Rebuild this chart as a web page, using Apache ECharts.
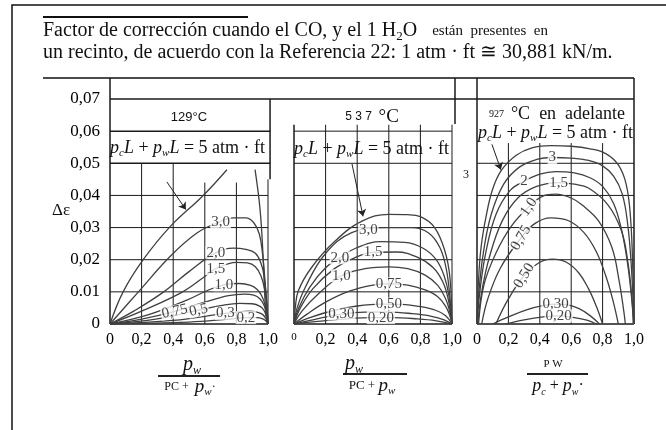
<!DOCTYPE html>
<html><head><meta charset="utf-8">
<script src="https://cdn.jsdelivr.net/npm/echarts@6/dist/echarts.min.js"></script>
<style>html,body{margin:0;padding:0;background:#fff}#c{width:666px;height:430px}</style>
</head><body><div id="c"></div>
<script>
// ---------- tick labels ----------
const xTickLabels = ['0','0,2','0,4','0,6','0,8','1,0'];
const yTickLabels = ['0','0.01','0,02','0,03','0,04','0,05','0,06','0,07'];

// ---------- Panel 1 : 129 °C ----------
const p1_c5a = [[0,0],[0.083,0.01],[0.21,0.02],[0.375,0.03],[0.59,0.04],[0.74,0.048]];
const p1_c5b = [[0.918,0.048],[0.95,0.0355],[0.97,0.020],[0.985,0.0044],[1,0]];
const p1_c30 = [[0,0],[0.18,0.010],[0.38,0.021],[0.55,0.0283],[0.68,0.0315],[0.78,0.033],[0.86,0.033],[0.91,0.0315],[0.945,0.028],[0.965,0.022],[0.98,0.014],[0.992,0.006],[1,0]];
const p1_c20 = [[0,0],[0.15,0.004],[0.34,0.010],[0.5,0.0163],[0.67,0.0222],[0.78,0.0236],[0.86,0.0232],[0.92,0.022],[0.955,0.019],[0.975,0.015],[0.99,0.008],[1,0]];
const p1_c15 = [[0,0],[0.2,0.004],[0.46,0.010],[0.6,0.0148],[0.67,0.0172],[0.8,0.0192],[0.87,0.019],[0.92,0.0178],[0.955,0.015],[0.978,0.011],[0.992,0.006],[1,0]];
const p1_c10 = [[0,0],[0.25,0.003],[0.49,0.0075],[0.62,0.0105],[0.72,0.0122],[0.82,0.0126],[0.89,0.012],[0.93,0.0108],[0.96,0.0088],[0.98,0.0062],[0.992,0.0033],[1,0]];
const p1_c075 = [[0,0],[0.2,0.0015],[0.41,0.0039],[0.6,0.0068],[0.75,0.0088],[0.85,0.0093],[0.91,0.009],[0.95,0.0078],[0.975,0.0058],[0.99,0.003],[1,0]];
const p1_c05 = [[0,0],[0.3,0.0016],[0.56,0.0043],[0.7,0.0057],[0.82,0.0064],[0.9,0.0063],[0.95,0.0055],[0.975,0.0042],[0.99,0.0022],[1,0]];
const p1_c03 = [[0,0],[0.4,0.0011],[0.73,0.0033],[0.82,0.0038],[0.88,0.004],[0.93,0.0037],[0.965,0.003],[0.985,0.0018],[1,0]];
const p1_c02 = [[0,0],[0.5,0.0006],[0.75,0.0015],[0.86,0.002],[0.93,0.002],[0.97,0.0015],[0.99,0.0008],[1,0]];
const p1_labels = [[0.7,0.0318,'3,0'],[0.67,0.0222,'2,0'],[0.67,0.0172,'1,5'],[0.72,0.0122,'1,0'],[0.41,0.0039,'0,75'],[0.56,0.0043,'0,5'],[0.73,0.0033,'0,3'],[0.86,0.002,'0,2']];
const p1_arrow = [[0.36,0.0442],[0.48,0.0356]];

// ---------- Panel 2 : 537 °C ----------
const p2_c5 = [[0,0],[0.008,0.005],[0.027,0.0103],[0.11,0.0175],[0.26,0.0258],[0.43,0.032],[0.6,0.0341],[0.72,0.034],[0.8,0.0334],[0.89,0.030],[0.955,0.0227],[0.987,0.0144],[1,0]];
const p2_c30 = [[0,0],[0.02,0.005],[0.07,0.0113],[0.196,0.0217],[0.365,0.0284],[0.576,0.030],[0.745,0.030],[0.85,0.0284],[0.924,0.0237],[0.966,0.0165],[0.99,0.0065],[1,0]];
const p2_c20 = [[0,0],[0.03,0.005],[0.1,0.0115],[0.2,0.0175],[0.29,0.0206],[0.4,0.0238],[0.55,0.0256],[0.7,0.0254],[0.82,0.0235],[0.9,0.02],[0.95,0.015],[0.98,0.009],[1,0]];
const p2_c15 = [[0,0],[0.04,0.005],[0.12,0.011],[0.25,0.017],[0.38,0.0205],[0.5,0.0223],[0.65,0.0224],[0.78,0.0208],[0.88,0.0176],[0.94,0.0133],[0.975,0.008],[1,0]];
const p2_c10 = [[0,0],[0.05,0.004],[0.15,0.0092],[0.3,0.015],[0.45,0.0172],[0.6,0.0178],[0.72,0.0172],[0.83,0.0152],[0.91,0.012],[0.96,0.0078],[0.985,0.004],[1,0]];
const p2_c075 = [[0,0],[0.08,0.003],[0.2,0.0068],[0.35,0.0102],[0.5,0.0121],[0.6,0.0125],[0.72,0.0121],[0.83,0.0106],[0.91,0.0085],[0.96,0.0055],[0.985,0.0028],[1,0]];
const p2_c050 = [[0,0],[0.1,0.002],[0.25,0.0042],[0.4,0.0056],[0.55,0.0062],[0.68,0.0061],[0.8,0.0054],[0.9,0.0042],[0.96,0.0026],[1,0]];
const p2_c030 = [[0,0],[0.12,0.0013],[0.3,0.0031],[0.45,0.0037],[0.6,0.0037],[0.75,0.0032],[0.87,0.0024],[0.95,0.0013],[1,0]];
const p2_c020 = [[0,0],[0.15,0.0008],[0.35,0.0017],[0.5,0.002],[0.62,0.002],[0.78,0.0016],[0.9,0.001],[1,0]];
const p2_labels = [[0.47,0.0292,'3,0'],[0.29,0.0206,'2,0'],[0.5,0.0223,'1,5'],[0.3,0.015,'1,0'],[0.6,0.0125,'0,75'],[0.6,0.0062,'0,50'],[0.3,0.0031,'0,30'],[0.55,0.002,'0,20']];
const p2_arrow = [[0.367,0.0498],[0.437,0.0335]];

// ---------- Panel 3 : 927 °C en adelante ----------
const p3_c5 = [[0,0],[0.008,0.012],[0.025,0.0235],[0.06,0.034],[0.1,0.042],[0.155,0.0478],[0.25,0.0525],[0.35,0.0548],[0.47,0.0555],[0.6,0.0553],[0.72,0.0545],[0.82,0.053],[0.9,0.0495],[0.95,0.0435],[0.978,0.033],[0.993,0.016],[1,0]];
const p3_c3 = [[0,0],[0.012,0.01],[0.04,0.022],[0.09,0.034],[0.17,0.0435],[0.27,0.0488],[0.38,0.0512],[0.48,0.0518],[0.6,0.0516],[0.7,0.051],[0.8,0.0492],[0.87,0.046],[0.925,0.0405],[0.96,0.031],[0.983,0.018],[1,0]];
const p3_c2 = [[0,0],[0.018,0.01],[0.055,0.022],[0.12,0.034],[0.21,0.0415],[0.3,0.0444],[0.4,0.0466],[0.5,0.0474],[0.62,0.047],[0.72,0.0455],[0.8,0.0428],[0.87,0.0375],[0.92,0.0295],[0.96,0.0185],[0.985,0.008],[1,0]];
const p3_c15 = [[0.005,0],[0.03,0.01],[0.08,0.021],[0.16,0.032],[0.26,0.0392],[0.38,0.0428],[0.52,0.044],[0.62,0.0435],[0.71,0.0423],[0.835,0.037],[0.92,0.029],[0.96,0.0196],[0.985,0.009],[0.995,0]];
const p3_c10 = [[0.01,0],[0.045,0.0123],[0.12,0.022],[0.22,0.0305],[0.33,0.0364],[0.42,0.0398],[0.5,0.0404],[0.6,0.0392],[0.67,0.037],[0.775,0.032],[0.86,0.0237],[0.905,0.0135],[0.935,0.004],[0.945,0]];
const p3_c075 = [[0.03,0],[0.07,0.008],[0.15,0.0175],[0.28,0.0268],[0.37,0.0313],[0.47,0.033],[0.58,0.0322],[0.68,0.0285],[0.76,0.0225],[0.82,0.015],[0.865,0.0075],[0.9,0]];
const p3_c050 = [[0.12,0],[0.2,0.0078],[0.3,0.015],[0.4,0.0192],[0.48,0.0202],[0.57,0.0192],[0.65,0.0158],[0.71,0.011],[0.76,0.0055],[0.8,0]];
const p3_c030 = [[0.1,0],[0.2,0.0022],[0.32,0.0045],[0.43,0.0058],[0.5,0.0062],[0.57,0.006],[0.65,0.0048],[0.72,0.0026],[0.78,0]];
const p3_c020 = [[0.18,0],[0.3,0.0013],[0.42,0.0022],[0.52,0.0025],[0.62,0.002],[0.7,0.0012],[0.76,0]];
const p3_labels = [[0.48,0.0518,'3'],[0.3,0.0444,'2'],[0.52,0.044,'1,5'],[0.33,0.0364,'1,0'],[0.28,0.0268,'0,75'],[0.3,0.015,'0,50'],[0.5,0.0062,'0,30'],[0.52,0.0025,'0,20']];
const p3_arrow = [[0.095,0.0559],[0.152,0.048]];

// ---------- build ----------
const SERIF = '"Liberation Serif", "DejaVu Serif", serif';
const SANS = '"Liberation Sans", Arial, sans-serif';
const INK = '#111';
const gridPos = [
  {left:110, top:99, width:158, height:225},
  {left:294, top:99, width:158, height:225},
  {left:477, top:99, width:157, height:225}
];
const panels = [
  {curves:[p1_c5a,p1_c5b,p1_c30,p1_c20,p1_c15,p1_c10,p1_c075,p1_c05,p1_c03,p1_c02], labels:p1_labels, arrow:p1_arrow, curveness:0, rot:{'0,75':12,'0,5':12}},
  {curves:[p2_c5,p2_c30,p2_c20,p2_c15,p2_c10,p2_c075,p2_c050,p2_c030,p2_c020], labels:p2_labels, arrow:p2_arrow, curveness:0.25, rot:{}},
  {curves:[p3_c5,p3_c3,p3_c2,p3_c15,p3_c10,p3_c075,p3_c050,p3_c030,p3_c020], labels:p3_labels, arrow:p3_arrow, curveness:0.15, rot:{'1,0':55,'0,75':60,'0,50':58}}
];

const xAxes = gridPos.map((g,i)=>({
  type:'value', gridIndex:i, min:0, max:1, interval:0.2,
  axisLine:{show:false}, axisTick:{show:false}, splitLine:{show:false},
  axisLabel:{
    margin:8, color:'#000', fontFamily:SERIF, fontSize:16,
    formatter: v => { const t = xTickLabels[Math.round(v*5)]; return (i===1 && t==='0') ? '{s|0}' : t; },
    rich:{s:{fontSize:11, fontFamily:SERIF, color:'#000'}}
  }
}));
const yAxes = gridPos.map((g,i)=>({
  type:'value', gridIndex:i, min:0, max:0.07, interval:0.01,
  axisLine:{show:false}, axisTick:{show:false}, splitLine:{show:false},
  axisLabel:{show:i===0, margin:10, color:'#000', fontFamily:SERIF, fontSize:17,
    formatter: v => yTickLabels[Math.round(v*100)]}
}));

const series = [];
panels.forEach((p,g)=>{
  p.curves.forEach(c=>series.push({
    type:'line', xAxisIndex:g, yAxisIndex:g, data:c, symbol:'none', showSymbol:false,
    smooth:0.4, silent:true, z:3,
    lineStyle:{color:'#404040', width:1.3}
  }));
  series.push({
    type:'scatter', xAxisIndex:g, yAxisIndex:g, symbolSize:0, silent:true, z:6,
    data: p.labels.map(d=>({name:d[2], value:[d[0],d[1]], label:{rotate:p.rot[d[2]]||0}})),
    label:{show:true, position:'inside', formatter:'{b}', color:'#111', fontFamily:SERIF,
      fontSize:15, backgroundColor:'#fff', padding:[0,1], lineHeight:13}
  });
  series.push({
    type:'line', xAxisIndex:g, yAxisIndex:g, data:[], silent:true, z:4,
    markLine:{silent:true, animation:false, symbol:['none','arrow'], symbolSize:7,
      label:{show:false},
      lineStyle:{color:'#222', width:1, type:'solid', curveness:p.curveness},
      data:[[{coord:p.arrow[0]},{coord:p.arrow[1]}]]}
  });
});

const chart = echarts.init(document.getElementById('c'));
chart.setOption({
  animation:false,
  backgroundColor:'#fff',
  grid: gridPos.map(g=>Object.assign({containLabel:false}, g)),
  xAxis: xAxes, yAxis: yAxes, series
});

// ---------- frame / grid structure (data coords -> pixels via the axes) ----------
const TOPY = 0.0765; // header rule above the panels
const segs = [];
[0.01,0.02,0.03,0.04].forEach(y=>segs.push([0,0,y,0,1,y,1]));
[0.05,0.06].forEach(y=>segs.push([0,0,y,0,1.013,y,1.5]));
[0.2,0.4].forEach(x=>segs.push([0,x,0,0,x,0.05,1]));
[0.6,0.8].forEach(x=>segs.push([0,x,0,0,x,0.044,1]));
segs.push([0,1,0,0,1,0.045,1],[0,1.013,0.045,0,1.013,0.07,1.5],[0,0,0,0,0,TOPY,1.5],[0,0,0,0,1,0,1.5]);
[0.01,0.02,0.03,0.04,0.05,0.06].forEach(y=>segs.push([1,0,y,1,1,y,1]));
[0,0.2,0.4,0.6,0.8,1].forEach(x=>segs.push([1,x,0,1,x,0.062,x===0?1.5:1]));
segs.push([1,0,0,1,1,0,1.5],[1,1.019,TOPY,1,1.019,0.0622,1.5]);
[0.01,0.02,0.03,0.04,0.05].forEach(y=>segs.push([2,0,y,2,1,y,1]));
[0.2,0.4,0.6,0.8].forEach(x=>segs.push([2,x,0,2,x,0.0563,1]));
segs.push([2,0,0,2,0,TOPY,1.5],[2,1,0,2,1,TOPY,1.5],[2,0,0,2,1,0,1.5]);
segs.push([0,0,0.07,2,1,0.07,1.5]);

const P = (g,x,y)=>chart.convertToPixel({xAxisIndex:g, yAxisIndex:g},[x,y]);
const graphics = segs.map(s=>{
  const a=P(s[0],s[1],s[2]), b=P(s[3],s[4],s[5]);
  return {type:'line', silent:true, z:1, shape:{x1:a[0],y1:a[1],x2:b[0],y2:b[1]}, style:{stroke:'#1a1a1a', lineWidth:s[6]}};
});
const hdr = P(0,0,TOPY)[1];
graphics.push(
  {type:'rect', silent:true, shape:{x:12,y:5,width:700,height:460}, style:{fill:'none', stroke:'#111', lineWidth:1.5}},
  {type:'line', silent:true, shape:{x1:43,y1:17,x2:248,y2:17}, style:{stroke:'#111', lineWidth:2}},
  {type:'line', silent:true, shape:{x1:43,y1:hdr,x2:P(2,1,0)[0],y2:hdr}, style:{stroke:'#111', lineWidth:1.5}}
);

const base = {fontFamily:SERIF, fill:INK};
const R = (o)=>Object.assign({}, base, o);
const formulaRich = {
  i:R({fontStyle:'italic', fontSize:18, lineHeight:22, verticalAlign:'middle'}),
  s:R({fontStyle:'italic', fontSize:11, lineHeight:11, verticalAlign:'bottom'}),
  r:R({fontSize:18, lineHeight:22, verticalAlign:'middle'})
};
const formula = '{i|p}{s|c}{i|L}{r| + }{i|p}{s|w}{i|L}{r| = 5 atm · ft}';
function txt(x,y,text,rich,align){
  return {type:'text', silent:true, z:8, x, y, style:{text, rich, align:align||'left', verticalAlign:'middle', fill:INK}};
}
graphics.push(
  txt(43,31,'{a|Factor de corrección cuando el CO, y el 1 H}{s|2}{a|O}{b|    están  presentes  en}',
    {a:R({fontSize:20, lineHeight:24, verticalAlign:'middle'}), s:R({fontSize:13, lineHeight:13, verticalAlign:'bottom'}), b:R({fontSize:15, lineHeight:24, verticalAlign:'middle'})}),
  txt(43,53,'{a|un recinto, de acuerdo con la Referencia 22: 1 atm · ft ≅ 30,881 kN/m.}',
    {a:R({fontSize:20, lineHeight:24})}),
  txt(61,211,'{a|Δε}', {a:R({fontSize:17})}, 'center'),
  txt(189,117,'{a|129°C}', {a:{fontFamily:SANS, fontSize:13, fill:INK}}, 'center'),
  txt(110,148,formula, formulaRich),
  txt(372,117,'{a|5 3 7  }{b|°C}', {a:{fontFamily:SANS, fontSize:12, fill:INK}, b:R({fontSize:19})}, 'center'),
  txt(294,149,formula, formulaRich),
  txt(557,114,'{a|927 }{b| °C  en  adelante}', {a:R({fontSize:10}), b:R({fontSize:18})}, 'center'),
  txt(478,133,formula, formulaRich),
  txt(466,175,'{a|3}', {a:R({fontSize:12})}, 'center'),
  // axis titles (fractions)
  txt(192,365,'{i|p}{s|w}', {i:R({fontStyle:'italic', fontSize:20, lineHeight:24, verticalAlign:'middle'}), s:R({fontStyle:'italic', fontSize:12, lineHeight:12, verticalAlign:'bottom'})}, 'center'),
  txt(190,387,'{r|PC +  }{i|p}{s|w}{r|·}', {r:R({fontSize:12, lineHeight:22, verticalAlign:'middle'}), i:R({fontStyle:'italic', fontSize:19, lineHeight:22, verticalAlign:'middle'}), s:R({fontStyle:'italic', fontSize:11, lineHeight:11, verticalAlign:'bottom'})}, 'center'),
  txt(354,364,'{i|p}{s|w}', {i:R({fontStyle:'italic', fontSize:20, lineHeight:24, verticalAlign:'middle'}), s:R({fontStyle:'italic', fontSize:12, lineHeight:12, verticalAlign:'bottom'})}, 'center'),
  txt(372,386,'{r|PC + }{i|p}{s|w}', {r:R({fontSize:13, lineHeight:22, verticalAlign:'middle'}), i:R({fontStyle:'italic', fontSize:19, lineHeight:22, verticalAlign:'middle'}), s:R({fontStyle:'italic', fontSize:11, lineHeight:11, verticalAlign:'bottom'})}, 'center'),
  txt(553,364,'{r|P W}', {r:R({fontSize:11})}, 'center'),
  txt(558,386,'{i|p}{s|c}{r| + }{i|p}{s|w}{r|·}', {r:R({fontSize:16, lineHeight:22, verticalAlign:'middle'}), i:R({fontStyle:'italic', fontSize:18, lineHeight:22, verticalAlign:'middle'}), s:R({fontStyle:'italic', fontSize:10, lineHeight:10, verticalAlign:'bottom'})}, 'center'),
  {type:'line', silent:true, shape:{x1:158,y1:376,x2:220,y2:376}, style:{stroke:'#222', lineWidth:2}},
  {type:'line', silent:true, shape:{x1:343,y1:374,x2:407,y2:374}, style:{stroke:'#222', lineWidth:2}},
  {type:'line', silent:true, shape:{x1:527,y1:374,x2:588,y2:374}, style:{stroke:'#222', lineWidth:2}}
);
chart.setOption({graphic:{elements:graphics}});
</script>
</body></html>
